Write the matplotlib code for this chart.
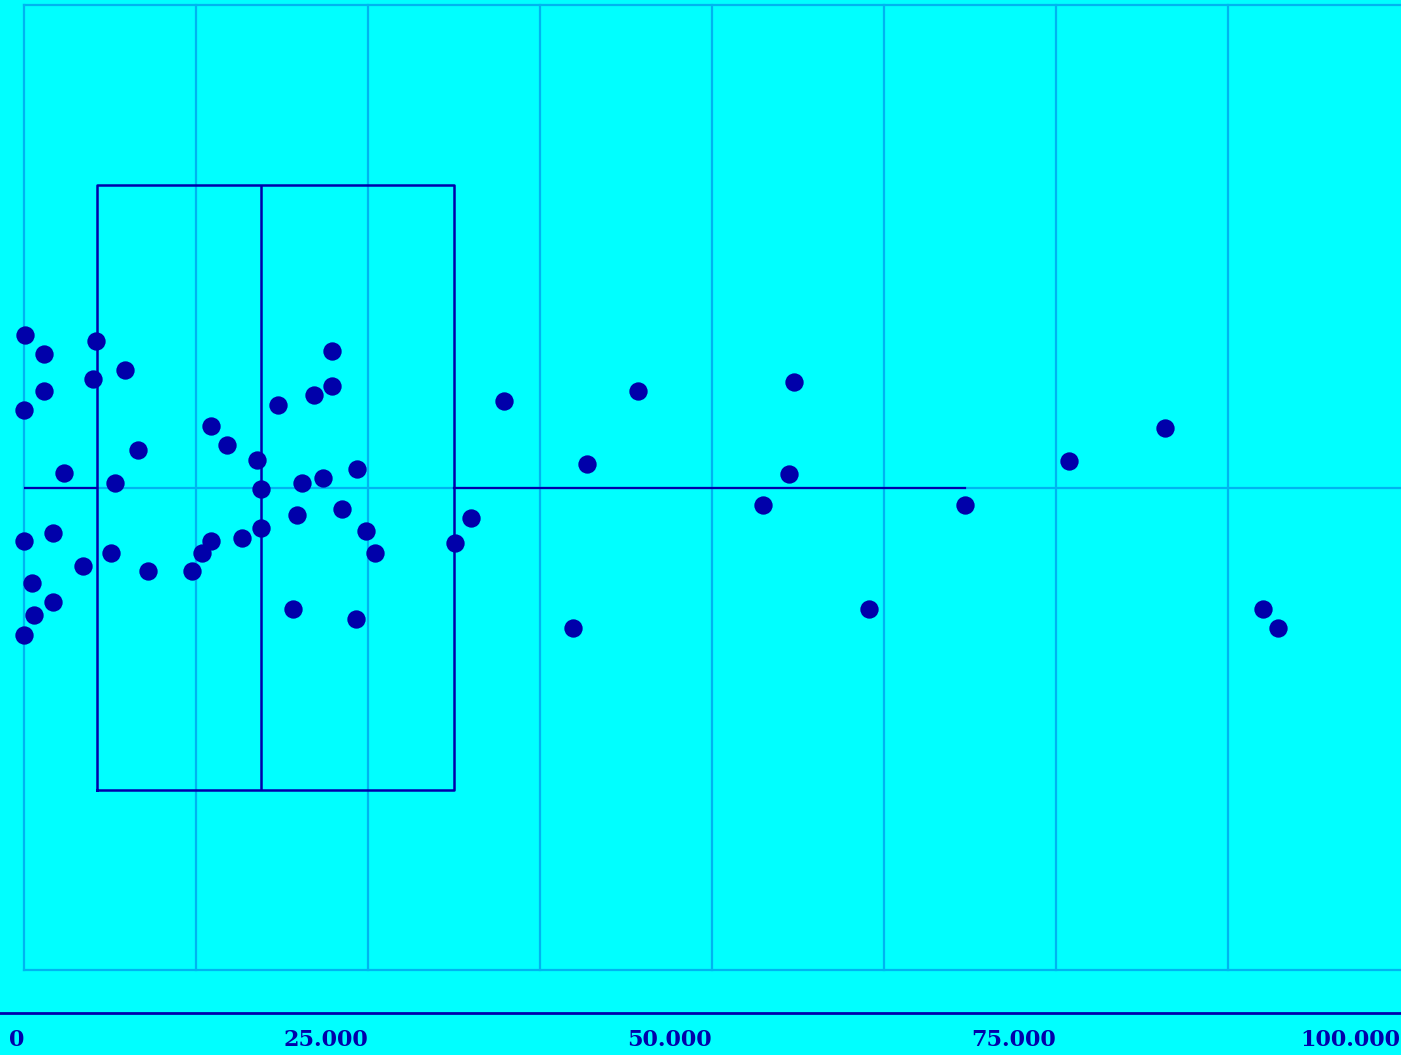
import matplotlib.pyplot as plt
from matplotlib.lines import Line2D

# values
values = [51, 1432, 5254, 4993, 7318, 1432, 0, 22405, 22400, 21054,
          18459, 13590, 14753, 8307, 16911, 2929, 6635, 17200, 20203, 21730,
          24222, 23110, 19840, 17200, 15865, 13590, 12914, 12209, 8990, 6344,
          4288, 2108, 0, 603, 2108, 727, 0, 19528, 24150, 24855,
          25530, 31345, 32507, 34855, 44586, 55930, 40952, 55567, 53721, 68400,
          39862, 61403, 75967, 82943, 90044, 91134]
jitter = [0.316, 0.277, 0.303, 0.224, 0.243, 0.199, 0.160, 0.282, 0.211, 0.191,
          0.172, 0.127, 0.088, 0.077, 0.058, 0.030, 0.010, -0.004, 0.010, 0.020,
          0.038, -0.045, -0.057, -0.084, -0.104, -0.110, -0.135, -0.174, -0.174, -0.135,
          -0.162, -0.095, -0.110, -0.198, -0.238, -0.265, -0.305, -0.251, -0.272, -0.090,
          -0.135, -0.115, -0.064, 0.179, 0.199, 0.218, 0.049, 0.029, -0.037, -0.037,
          -0.291, -0.251, 0.055, 0.124, -0.251, -0.291]

box_stats = dict(whislo=0, q1=5305, med=17200, q3=31250, whishi=68400)

tick_values = [0, 25000, 50000, 75000, 100000]
tick_labels = ['0', '25.000', '50.000', '75.000', '100.000']
grid_x = [0, 12500, 25000, 37500, 50000, 62500, 75000, 87500]
grid_y = [-1, 0, 1]

BG = '#00FFFF'
GRID = '#00B4F0'
DARK = '#0000AA'

fig = plt.figure(figsize=(14.01, 10.55), dpi=100, facecolor=BG)
ax = fig.add_axes([24 / 1401, 85 / 1055, 1376 / 1401, 965 / 1055])
ax.set_facecolor(BG)
ax.set_xlim(0, 100000)
ax.set_ylim(-1, 1)

for gx in grid_x:
    ax.axvline(gx, color=GRID, lw=1.6, zorder=1, clip_on=False)
for gy in grid_y:
    ax.axhline(gy, xmax=1.01, color=GRID, lw=1.6, zorder=1, clip_on=False)

ax.bxp([box_stats], positions=[0], widths=1.254, orientation='horizontal',
       showfliers=False, showcaps=False,
       boxprops=dict(color=DARK, lw=1.8),
       whiskerprops=dict(color=DARK, lw=1.6),
       medianprops=dict(color=DARK, lw=1.8),
       zorder=2)

ax.plot(values, jitter, 'o', color=DARK, markersize=13.2, markeredgewidth=0,
        zorder=3, clip_on=False)

for s in ax.spines.values():
    s.set_visible(False)
ax.set_yticks([])
ax.set_xticks(tick_values)
ax.set_xticklabels(tick_labels, ha='right', color=DARK, fontsize=16,
                   fontfamily='DejaVu Serif', fontweight='bold')
ax.tick_params(axis='x', length=0, pad=42.5)

fig.add_artist(Line2D([0, 1], [42 / 1055, 42 / 1055], color=DARK, lw=2,
                      transform=fig.transFigure))

fig.savefig('out.png', dpi=100, facecolor=BG)
